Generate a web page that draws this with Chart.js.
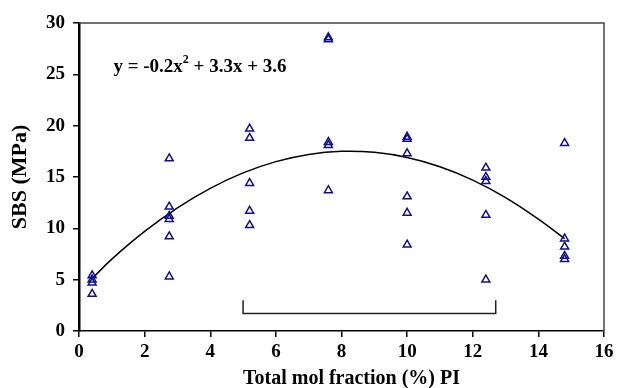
<!DOCTYPE html>
<html>
<head>
<meta charset="utf-8">
<script src="https://cdn.jsdelivr.net/npm/chart.js@4/dist/chart.umd.min.js"></script>
<style>
  html, body { margin: 0; padding: 0; background: #fff; }
  #wrap { width: 618px; height: 388px; }
</style>
</head>
<body>
<div id="wrap"><canvas id="sbsChart" width="618" height="388"></canvas></div>
<script>
// PI mol fraction groups and the SBS values measured at each one
const piFractions = [0.4, 2.75, 5.2, 7.6, 10, 12.4, 14.8];
const sbsValues = [
    [5.4, 5.0, 4.7, 3.6],
    [16.8, 12.1, 11.2, 10.9, 9.2, 5.3],
    [19.7, 18.8, 14.4, 11.7, 10.3],
    [28.6, 28.4, 18.4, 18.1, 13.7],
    [18.9, 18.7, 17.3, 13.1, 11.5, 8.4],
    [15.9, 15.0, 14.6, 11.3, 5.0],
    [18.3, 9.0, 8.2, 7.3, 7.0]
];

// fitted curve
const fitX = [0.4, 1, 2, 3, 4, 5, 6, 7, 8, 9, 10, 11, 12, 13, 14, 14.8];
const fitY = [5.1, 7.0, 9.7, 12.0, 13.9, 15.4, 16.5, 17.2, 17.5, 17.4, 16.9, 16.0, 14.7, 13.0, 10.9, 9.0];

// bracket under the points
const bracketX = [5, 5, 12.7, 12.7];
const bracketY = [3, 1.7, 1.7, 3];

const xTicks = [0, 2, 4, 6, 8, 10, 12, 14, 16];
const yTicks = [0, 5, 10, 15, 20, 25, 30];
const xTitle = 'Total mol fraction (%) PI';
const equationText = ['y = -0.2x', '2', ' + 3.3x + 3.6'];
const equationPos = { x: 1.05, y: 25.25 };

const points = [];
piFractions.forEach((x, i) => {
    sbsValues[i].forEach(v => points.push({ x: x, y: v }));
});

const serif = "'Liberation Serif', 'Times New Roman', serif";

const framePlugin = {
    id: 'frame',
    afterDraw(chart) {
        const ctx = chart.ctx;
        const a = chart.chartArea;
        ctx.save();
        // top and right frame lines
        ctx.strokeStyle = '#444';
        ctx.lineWidth = 1.5;
        ctx.beginPath();
        ctx.moveTo(a.left, a.top);
        ctx.lineTo(a.right, a.top);
        ctx.lineTo(a.right, a.bottom);
        ctx.stroke();

        // x axis title, sits a bit right of the plot centre
        ctx.fillStyle = '#000';
        ctx.font = 'bold 20px ' + serif;
        ctx.textAlign = 'center';
        ctx.textBaseline = 'middle';
        ctx.fillText(xTitle, (a.left + a.right) / 2 + 10, 379);

        // equation text
        const xs = chart.scales.x, ys = chart.scales.y;
        let px = xs.getPixelForValue(equationPos.x);
        const py = ys.getPixelForValue(equationPos.y);
        ctx.textAlign = 'left';
        ctx.textBaseline = 'alphabetic';
        ctx.font = 'bold 19px ' + serif;
        ctx.fillText(equationText[0], px, py);
        px += ctx.measureText(equationText[0]).width;
        ctx.font = 'bold 12px ' + serif;
        ctx.fillText(equationText[1], px, py - 9);
        px += ctx.measureText(equationText[1]).width;
        ctx.font = 'bold 19px ' + serif;
        ctx.fillText(equationText[2], px, py);
        ctx.restore();
    }
};

new Chart(document.getElementById('sbsChart').getContext('2d'), {
    type: 'scatter',
    data: {
        datasets: [
            {
                label: 'SBS',
                data: points,
                pointStyle: 'triangle',
                pointRadius: 4.6,
                borderColor: '#10108f',
                backgroundColor: 'rgba(0,0,0,0)',
                borderWidth: 1.5
            },
            {
                label: 'Fit',
                data: fitX.map((x, i) => ({ x: x, y: fitY[i] })),
                showLine: true,
                tension: 0.4,
                pointRadius: 0,
                borderColor: '#000',
                borderWidth: 1.5
            },
            {
                label: 'Bracket',
                data: bracketX.map((x, i) => ({ x: x, y: bracketY[i] })),
                showLine: true,
                tension: 0,
                pointRadius: 0,
                borderColor: '#222',
                borderWidth: 1.5
            }
        ]
    },
    options: {
        responsive: false,
        animation: false,
        layout: { padding: { top: 23, right: 14, left: 0, bottom: 0 } },
        plugins: {
            legend: { display: false },
            tooltip: { enabled: false }
        },
        scales: {
            x: {
                type: 'linear',
                min: 0,
                max: 16,
                afterFit: s => { s.height = 57; },
                afterBuildTicks: s => { s.ticks = xTicks.map(v => ({ value: v })); },
                grid: { drawOnChartArea: false, tickLength: 6, color: '#000', lineWidth: 1.5 },
                border: { color: '#000', width: 1.5 },
                ticks: { color: '#000', padding: 4, maxRotation: 0, autoSkip: false,
                         font: { family: serif, size: 19, weight: 'bold' } },
                title: { display: false }
            },
            y: {
                min: 0,
                max: 30,
                afterFit: s => { s.width = 79; },
                afterBuildTicks: s => { s.ticks = yTicks.map(v => ({ value: v })); },
                grid: { drawOnChartArea: false, tickLength: 6, color: '#000', lineWidth: 1.5 },
                border: { color: '#000', width: 2.5 },
                ticks: { color: '#000', padding: 8,
                         font: { family: serif, size: 19, weight: 'bold' } },
                title: { display: true, text: 'SBS (MPa)', color: '#000',
                         padding: { top: 9, bottom: 0 },
                         font: { family: serif, size: 22, weight: 'bold', lineHeight: 1 } }
            }
        }
    },
    plugins: [framePlugin]
});
</script>
</body>
</html>
